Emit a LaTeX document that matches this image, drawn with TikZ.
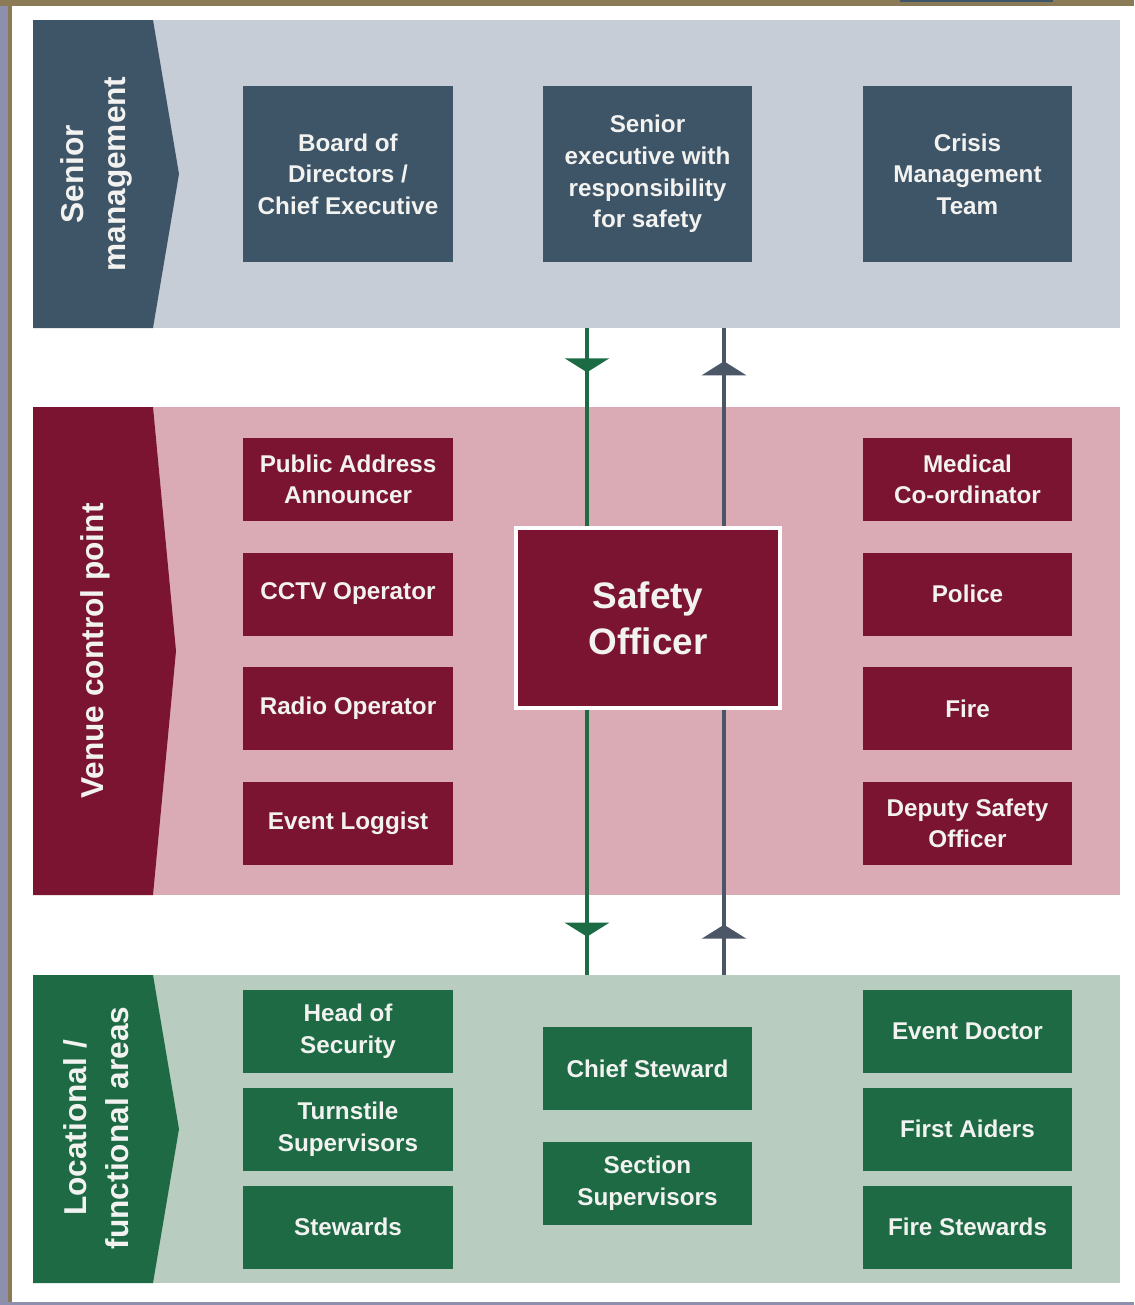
\documentclass[tikz,border=0pt]{standalone}
\usepackage{fontspec}
\setmainfont{Liberation Sans}
\usetikzlibrary{arrows.meta,decorations.markings}
\definecolor{slate}{HTML}{3E5467}
\definecolor{slatebg}{HTML}{C6CDD7}
\definecolor{wine}{HTML}{7A1430}
\definecolor{winebg}{HTML}{DAABB4}
\definecolor{forest}{HTML}{1D6A44}
\definecolor{forestbg}{HTML}{B8CCBF}
\definecolor{olive}{HTML}{8A7A55}
\definecolor{lavender}{HTML}{8E8FAC}
\definecolor{greenlink}{HTML}{1B6B45}
\definecolor{greylink}{HTML}{4B5666}
\definecolor{boxtext}{HTML}{F2F2F0}
\begin{document}
\begin{tikzpicture}[x=0.02cm,y=-0.02cm,
	every node/.style={inner sep=0pt,align=center,text=boxtext,font=\bfseries\fontsize{13.8}{18}\selectfont},
	band/.style={minimum width=21.74cm,minimum height=6.16cm},
	box/.style={minimum width=4.2cm,minimum height=1.66cm},
	bigbox/.style={minimum width=4.2cm,minimum height=3.52cm},
	tablabel/.style={rotate=90,font=\bfseries\fontsize{18}{24}\selectfont},
	midtip/.style={postaction={decorate,decoration={markings,mark=at position #1 with {\arrow{Triangle[width=.88cm,length=.28cm]}}}}},
	link/.style={line width=2.2pt}]
	\useasboundingbox (0,0) rectangle (1134,1305);
	\fill[white] (0,0) rectangle (1134,1305);
	% frame
	\fill[lavender] (0,0) rectangle (8,1305);
	\fill[olive] (8,0) rectangle (12,1302);
	\fill[olive] (0,0) rectangle (1134,6);
	\fill[slate] (900,0) rectangle (1053,2);
	\fill[lavender] (8,1302) rectangle (1134,1305);
	% bands
	\node[band,fill=slatebg] (sband) at (576.5,174) {};
	\node[band,fill=winebg,minimum height=9.76cm] (vband) at (576.5,651) {};
	\node[band,fill=forestbg] (lband) at (576.5,1129) {};
	\fill[slate] (33,20) -- (153,20) -- (179,174) -- (153,328) -- (33,328) -- cycle;
	\fill[wine] (33,407) -- (153,407) -- (176,651) -- (153,895) -- (33,895) -- cycle;
	\fill[forest] (33,975) -- (153,975) -- (179,1129) -- (153,1283) -- (33,1283) -- cycle;
	\node[tablabel] (slabel) at (96,174) {Senior\\management};
	\node[tablabel] (vlabel) at (95,651) {Venue control point};
	\node[tablabel] (llabel) at (96,1128) {Locational /\\functional areas};
	% senior management
	\node[bigbox,fill=slate] (board) at (348,174) {Board of\\Directors /\\Chief Executive};
	\node[bigbox,fill=slate] (exec) at (647.5,174) {Senior\\executive with\\responsibility\\for safety};
	\node[bigbox,fill=slate] (crisis) at (967.5,174) {Crisis\\Management\\Team};
	% venue control point
	\node[box,fill=wine] (pa) at (348,479.5) {Public Address\\Announcer};
	\node[box,fill=wine] (cctv) at (348,594) {CCTV Operator};
	\node[box,fill=wine] (radio) at (348,708.5) {Radio Operator};
	\node[box,fill=wine] (loggist) at (348,823.5) {Event Loggist};
	\node[box,fill=wine] (medical) at (967.5,479.5) {Medical\\Co-ordinator};
	\node[box,fill=wine] (police) at (967.5,594) {Police};
	\node[box,fill=wine] (fire) at (967.5,708.5) {Fire};
	\node[box,fill=wine] (deputy) at (967.5,823.5) {Deputy Safety\\Officer};
	\node[fill=wine,draw=white,line width=2pt,minimum width=5.28cm,minimum height=3.6cm,
		font=\bfseries\fontsize{21}{26}\selectfont] (safety) at (648,618) {Safety\\Officer};
	% locational / functional areas
	\node[box,fill=forest] (security) at (348,1031.5) {Head of\\Security};
	\node[box,fill=forest] (turnstile) at (348,1129) {Turnstile\\Supervisors};
	\node[box,fill=forest] (stewards) at (348,1227) {Stewards};
	\node[box,fill=forest] (chief) at (647.5,1068.5) {Chief Steward};
	\node[box,fill=forest] (section) at (647.5,1183) {Section\\Supervisors};
	\node[box,fill=forest] (doctor) at (967.5,1031.5) {Event Doctor};
	\node[box,fill=forest] (aiders) at (967.5,1129) {First Aiders};
	\node[box,fill=forest] (firestewards) at (967.5,1227) {Fire Stewards};
	% reporting lines
	\coordinate (gx) at (587,0);
	\coordinate (yx) at (724,0);
	\draw[link,greenlink,midtip=.88cm] (sband.south -| gx) -- (safety.north -| gx);
	\draw[link,greylink,midtip=3.3cm] (safety.north -| yx) -- (sband.south -| yx);
	\draw[link,greenlink,midtip=4.54cm] (safety.south -| gx) -- (lband.north -| gx);
	\draw[link,greylink,midtip=1cm] (lband.north -| yx) -- (safety.south -| yx);
\end{tikzpicture}
\end{document}
